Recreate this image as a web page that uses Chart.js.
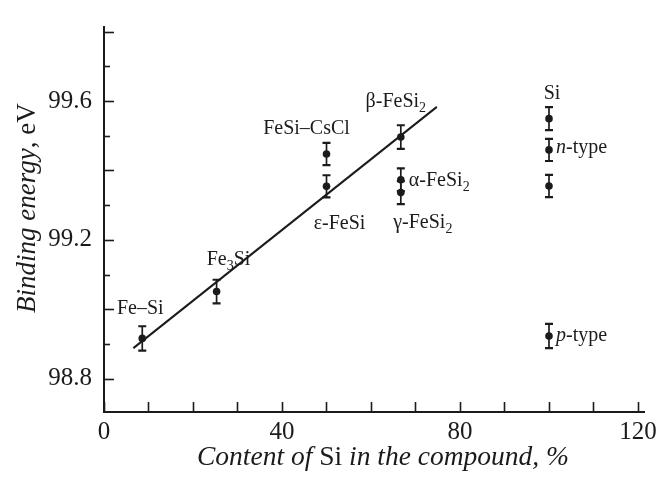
<!DOCTYPE html>
<html><head><meta charset="utf-8">
<script src="https://cdn.jsdelivr.net/npm/chart.js@4/dist/chart.umd.min.js"></script>
<style>html,body{margin:0;padding:0;background:#fff}#wrap{width:662px;height:477px;position:relative}</style>
</head><body><div id="wrap"><canvas id="c"></canvas></div>
<script>
// ---- data ----
const siContent     = [8.6, 25.3, 50, 50, 66.7, 66.7, 66.7, 100, 100, 100, 100];
const bindingEnergy = [98.916, 99.051, 99.447, 99.354, 99.496, 99.373, 99.336, 99.549, 99.459, 99.355, 98.923];
const energyError   = [0.035, 0.034, 0.032, 0.032, 0.034, 0.033, 0.033, 0.033, 0.032, 0.032, 0.035];
const pointLabels   = ['Fe–Si', 'Fe₃Si', 'FeSi–CsCl', 'ε-FeSi', 'β-FeSi₂', 'α-FeSi₂', 'γ-FeSi₂', 'Si', '*n*-type', '', '*p*-type'];
const fitX = [6.6, 74.8];
const fitY = [98.888, 99.583];
const xTicks = [0, 10, 20, 30, 40, 50, 60, 70, 80, 90, 100, 110, 120];
const xTickLabels = [0, 40, 80, 120];
const yTicks = [98.8, 98.9, 99.0, 99.1, 99.2, 99.3, 99.4, 99.5, 99.6, 99.7, 99.8];
const yTickLabels = [98.8, 99.2, 99.6];
const xTitle = 'Content of |Si| in the compound, %';   // |...| = upright
const yTitle = 'Binding energy|, eV';

// ---- styling (pixel offsets of annotation text relative to its point) ----
const labelOffsets = [
  [-2, -30, 'center'], [12, -32, 'center'], [-20, -25, 'center'], [13, 37, 'center'],
  [-5, -35, 'center'], [8, 1, 'left'], [22, 30, 'center'], [3, -25, 'center'],
  [7, -2, 'left'], [0, 0, 'left'], [7, 0, 'left']
];
const INK = '#1c1a1b';
const SERIF = '"Liberation Serif", "Times New Roman", serif';

const subMap = {'₀':'0','₁':'1','₂':'2','₃':'3','₄':'4','₅':'5','₆':'6','₇':'7','₈':'8','₉':'9'};
function segmentsOf(text) {
  const segs = [];
  let italic = false;
  for (const ch of text) {
    if (ch === '*') { italic = !italic; continue; }
    const sub = subMap[ch] !== undefined;
    const t = sub ? subMap[ch] : ch;
    const last = segs[segs.length - 1];
    if (last && last.sub === sub && last.italic === italic) last.t += t;
    else segs.push({t, sub, italic});
  }
  return segs;
}
function drawRich(ctx, text, x, y, size, align) {
  const segs = segmentsOf(text);
  const fontFor = s => (s.italic ? 'italic ' : '') + (s.sub ? Math.round(size * 0.7) : size) + 'px ' + SERIF;
  let w = 0;
  segs.forEach(s => { ctx.font = fontFor(s); s.w = ctx.measureText(s.t).width; w += s.w; });
  let cx = align === 'center' ? x - w / 2 : x;
  ctx.textAlign = 'left';
  ctx.textBaseline = 'middle';
  segs.forEach(s => {
    ctx.font = fontFor(s);
    ctx.fillText(s.t, cx, s.sub ? y + size * 0.33 : y);
    cx += s.w;
  });
}
function drawTitle(ctx, text, x, y, size) {
  const parts = text.split('|');
  ctx.textAlign = 'left';
  ctx.textBaseline = 'alphabetic';
  let cx = x;
  parts.forEach((p, i) => {
    ctx.font = (i % 2 === 0 ? 'italic ' : '') + size + 'px ' + SERIF;
    ctx.fillText(p, cx, y);
    cx += ctx.measureText(p).width;
  });
}

const extras = {
  id: 'extras',
  afterDraw(chart) {
    const ctx = chart.ctx;
    const xs = chart.scales.x, ys = chart.scales.y;
    ctx.save();
    ctx.strokeStyle = INK; ctx.fillStyle = INK;
    // inward ticks
    ctx.lineWidth = 1.6;
    xTicks.forEach(v => {
      const px = Math.round(xs.getPixelForValue(v)) + 0.5;
      ctx.beginPath(); ctx.moveTo(px, ys.bottom); ctx.lineTo(px, ys.bottom - 10); ctx.stroke();
    });
    yTicks.forEach(v => {
      const py = Math.round(ys.getPixelForValue(v)) + 0.5;
      const len = Math.round(v * 10) % 2 === 0 ? 10 : 6;
      ctx.beginPath(); ctx.moveTo(xs.left, py); ctx.lineTo(xs.left + len, py); ctx.stroke();
    });
    // error bars
    siContent.forEach((xv, i) => {
      const px = xs.getPixelForValue(xv);
      const y1 = ys.getPixelForValue(bindingEnergy[i] + energyError[i]);
      const y2 = ys.getPixelForValue(bindingEnergy[i] - energyError[i]);
      ctx.lineWidth = 1.7;
      ctx.beginPath(); ctx.moveTo(px, y1); ctx.lineTo(px, y2); ctx.stroke();
      ctx.lineWidth = 2.2;
      ctx.beginPath();
      ctx.moveTo(px - 4, y1); ctx.lineTo(px + 4, y1);
      ctx.moveTo(px - 4, y2); ctx.lineTo(px + 4, y2);
      ctx.stroke();
    });
    // annotations
    pointLabels.forEach((lab, i) => {
      if (!lab) return;
      const px = xs.getPixelForValue(siContent[i]);
      const py = ys.getPixelForValue(bindingEnergy[i]);
      const [dx, dy, al] = labelOffsets[i];
      drawRich(ctx, lab, px + dx, py + dy, 20, al);
    });
    // axis titles
    drawTitle(ctx, xTitle, 197, 465, 27.5);
    ctx.save();
    ctx.translate(35, 313);
    ctx.rotate(-Math.PI / 2);
    drawTitle(ctx, yTitle, 0, 0, 27);
    ctx.restore();
    ctx.restore();
  }
};

new Chart(document.getElementById('c'), {
  type: 'scatter',
  data: {
    datasets: [
      {
        label: 'Measured',
        data: siContent.map((x, i) => ({x, y: bindingEnergy[i]})),
        backgroundColor: INK, borderColor: INK,
        pointRadius: 3.8, pointHoverRadius: 3.8, borderWidth: 0
      },
      {
        label: 'Fit',
        type: 'line',
        data: fitX.map((x, i) => ({x, y: fitY[i]})),
        borderColor: INK, borderWidth: 2, pointRadius: 0, fill: false, tension: 0
      }
    ]
  },
  options: {
    responsive: true, maintainAspectRatio: false, animation: false,
    layout: {padding: {top: 12, right: 18, left: 0, bottom: 0}},
    plugins: {legend: {display: false}, tooltip: {enabled: false}},
    scales: {
      x: {
        type: 'linear', min: 0, max: 121.35,
        afterBuildTicks: s => { s.ticks = xTicks.map(v => ({value: v})); },
        afterFit: s => { s.height = 65; },
        grid: {display: false, drawTicks: false},
        border: {display: true, color: INK, width: 2},
        ticks: {
          autoSkip: false, maxRotation: 0, padding: 5, color: INK,
          font: {family: SERIF, size: 25},
          callback: v => xTickLabels.includes(v) ? String(v) : ''
        }
      },
      y: {
        type: 'linear', min: 98.704, max: 99.813,
        afterBuildTicks: s => { s.ticks = yTicks.map(v => ({value: v})); },
        afterFit: s => { s.width = 104; },
        grid: {display: false, drawTicks: false},
        border: {display: true, color: INK, width: 2},
        ticks: {
          autoSkip: false, padding: 12, color: INK,
          font: {family: SERIF, size: 25},
          callback: v => yTickLabels.some(t => Math.abs(t - v) < 1e-6) ? v.toFixed(1) : ''
        }
      }
    }
  },
  plugins: [extras]
});
</script>
</body></html>
